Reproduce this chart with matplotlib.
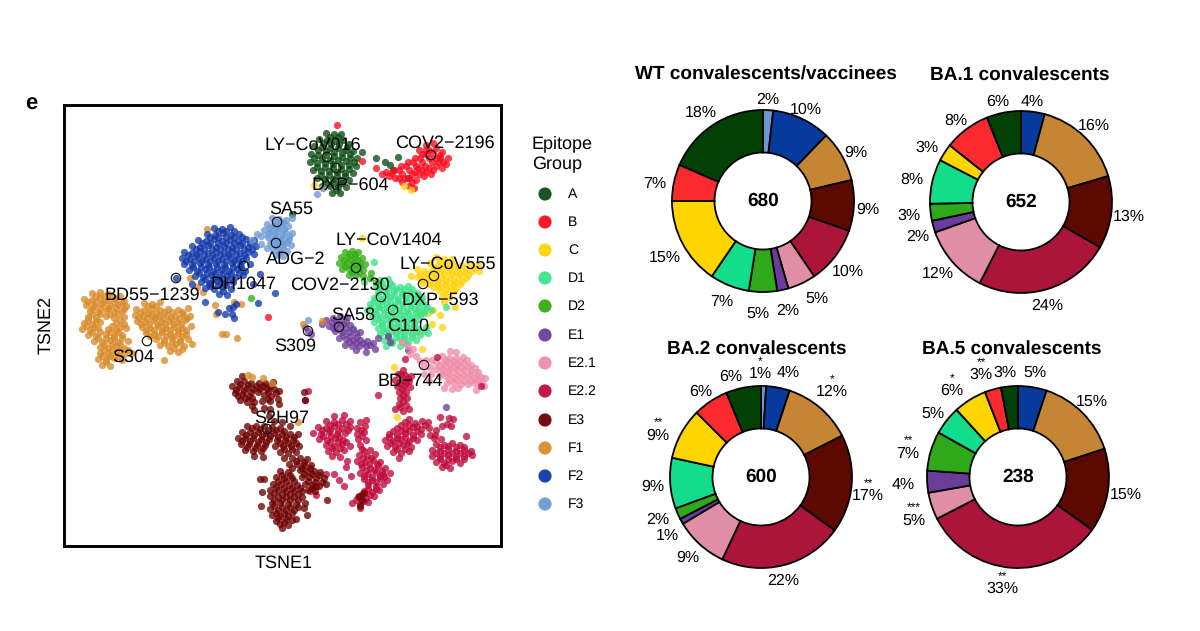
#!/usr/bin/env python
import matplotlib
matplotlib.use('Agg')
import matplotlib.pyplot as plt

plt.rcParams['font.family'] = ['Liberation Sans', 'DejaVu Sans']
plt.rcParams['text.hinting'] = 'none'
plt.rcParams['text.hinting_factor'] = 1

groups = ['A', 'B', 'C', 'D1', 'D2', 'E1', 'E2.1', 'E2.2', 'E3', 'F1', 'F2', 'F3']
dot_colors = ['#0a4d12', '#ff0a1e', '#ffd30a', '#3be38a', '#33ad14', '#6f3d9b',
              '#f08ca6', '#c00a3a', '#6e0000', '#d98a28', '#1238a8', '#6b9ad6']
pie_colors = ['#034003', '#fb2a2f', '#ffd500', '#13dc8a', '#2fa81c', '#6a3d9a',
              '#e08ea6', '#ab1539', '#5c0a00', '#c58535', '#063a9c', '#6d97cf']

# tsne positions, one list per group
pts_f1 = [(28,253),(36,254),(44,252),(56,250),(20,247),(28,246),(36,248),(44,246),(52,247),(60,245),
    (22,241),(30,240),(38,242),(46,240),(54,241),(62,240),(26,235),(34,234),(42,236),(50,234),(58,235),
    (24,229),(32,228),(42,230),(50,228),(60,229),(20,223),(28,222),(36,224),(52,223),(60,222),
    (18,217),(26,216),(34,218),(44,217),(52,216),(62,218),(24,211),(32,210),(42,212),(50,210),(58,211),
    (30,205),(38,204),(46,206),(54,204),(64,205),(36,199),(44,198),(52,200),(60,198),(36,193),(44,192),
    (52,194),(60,192),(68,193),(34,187),(42,186),(50,188),(58,186),(38,181),(46,180),
    (80,243),(88,242),(96,244),(72,237),(80,236),(88,238),(96,236),(104,237),(114,236),(124,238),
    (71,231),(79,230),(87,232),(95,230),(103,231),(111,230),(119,232),(126,230),(73,225),(81,224),
    (89,226),(97,224),(105,225),(113,224),(121,226),(78,219),(86,218),(94,220),(102,218),(110,219),
    (118,218),(127,220),(82,213),(90,212),(98,214),(106,212),(114,213),(122,212),(92,207),(100,206),
    (108,208),(116,206),(124,207),(96,201),(104,200),(112,202),(120,200),(128,202),(106,195),(114,194),
    (118,197),(100,186),(158,212),(162,212),(173,208),(177,242),(151,241),(143,317),(184,171),(188,169),
    (199,168),(208,163),(234,124),(239,222),(258,225),(139,254),(126,268),(133,259),(152,232),(170,244),
    (32,250),(40,250),(48,250),(24,244),(32,244),(40,244),(50,244),(58,243),(28,238),(36,238),(44,238),
    (52,238),(60,237),(28,232),(36,232),(46,232),(54,232),(24,226),(32,225),(56,226),(22,220),(30,219),
    (48,220),(56,219),(28,214),(36,214),(46,214),(54,214),(34,208),(42,208),(50,208),(58,208),(40,202),
    (48,202),(56,202),(40,196),(48,196),(56,196),(64,196),(38,190),(46,190),(54,190),(42,184),
    (84,240),(92,240),(76,234),(84,233),(92,233),(100,234),(108,234),(118,234),(75,228),(83,228),(91,228),
    (99,228),(107,228),(115,228),(123,228),(77,222),(85,222),(93,222),(101,222),(109,222),(117,222),
    (82,216),(90,216),(98,216),(106,216),(114,216),(122,216),(86,210),(94,210),(102,210),(110,210),
    (118,210),(100,204),(108,204),(116,204),(110,198)]
pts_f2 = [(150,318),(158,317),(166,319),(143,312),(151,311),(159,313),(167,311),(175,312),(134,306),
    (142,305),(150,307),(158,305),(166,306),(174,305),(182,307),(190,306),(128,300),(136,299),(144,301),
    (152,299),(160,300),(168,299),(176,301),(184,299),(192,300),(120,294),(128,293),(136,295),(144,293),
    (152,294),(160,293),(168,295),(176,293),(184,294),(190,292),(118,288),(126,287),(134,289),(142,287),
    (150,288),(158,287),(166,289),(174,287),(182,288),(120,282),(128,281),(136,283),(144,281),(152,282),
    (160,281),(168,283),(176,281),(186,282),(125,276),(133,275),(141,277),(149,275),(157,276),(165,275),
    (173,277),(181,275),(131,270),(139,269),(147,271),(155,269),(163,270),(171,269),(179,271),(137,264),
    (145,263),(153,265),(161,263),(169,264),(141,258),(150,257),(158,259),(167,257),(155,252),(163,251),
    (172,242),(165,238),(161,232),(168,232),(170,228),(141,244),(154,234),(169,239),(194,243),(211,253),
    (146,262),(112,268),(128,262),(189,262),(196,272),
    (154,315),(162,315),(170,315),(146,309),(154,309),(162,309),(170,309),(178,309),(138,303),(146,303),
    (154,303),(162,303),(170,303),(178,303),(186,303),(132,297),(140,297),(148,297),(156,297),(164,297),
    (172,297),(180,297),(188,297),(124,291),(132,291),(140,291),(148,291),(156,291),(164,291),(172,291),
    (180,291),(122,285),(130,285),(138,285),(146,285),(154,285),(162,285),(170,285),(178,285),(129,279),
    (137,279),(145,279),(153,279),(161,279),(169,279),(177,279),(135,273),(143,273),(151,273),(159,273),
    (167,273),(175,273),(141,267),(149,267),(157,267),(165,267),(146,260),(154,261),(162,261),(159,255)]
pts_f3 = [(208,328),(215,327),(222,326),(228,328),(203,322),(210,321),(217,321),(224,320),(200,316),
    (207,315),(214,315),(221,314),(228,313),(197,310),(204,309),(211,309),(218,308),(225,307),(206,303),
    (213,303),(220,302),(227,301),(209,297),(216,296),(223,295),(212,291),(219,290),(197,302),(203,298),
    (193,312),(253,352),(259,358),(244,226),(188,306),
    (212,324),(219,324),(206,318),(213,318),(220,317),(204,312),(211,312),(218,311),(225,310),(209,306),
    (216,305),(223,304),(212,300),(219,299),(215,293)]
pts_d2 = [(281,294),(288,295),(294,294),(277,289),(284,289),(291,289),(298,288),(275,283),(282,283),
    (289,283),(296,283),(301,282),(278,277),(285,277),(292,277),(299,276),(285,271),(292,271),(299,270),
    (306,268),(312,264),(307,273),(187,248),
    (285,292),(291,292),(280,286),(287,286),(294,286),(281,280),(288,280),(295,280),(288,274),(295,274)]
pts_c = [(372,289),(380,287),(388,287),(366,283),(374,281),(382,281),(390,281),(398,281),(406,283),
    (414,281),(353,277),(360,275),(368,275),(376,275),(384,275),(392,274),(400,274),(408,275),(415,275),
    (347,270),(354,269),(362,269),(370,268),(378,268),(386,268),(394,268),(402,268),(358,263),(365,262),
    (373,262),(381,262),(389,262),(396,262),(375,256),(383,256),(390,255),(378,250),(385,249),(380,244),
    (354,233),(369,236),(391,239),(378,219),(354,232),(364,233),(376,231),(358,197),(330,179),(333,129),
    (368,222),(355,213),(347,356),(340,360),(298,308),(250,361),(258,358),
    (376,284),(384,284),(370,278),(378,278),(386,278),(394,278),(402,278),(410,278),(356,272),(364,272),
    (372,272),(380,272),(388,272),(396,272),(404,271),(358,266),(366,265),(374,265),(382,265),(390,265),
    (398,265),(369,259),(377,259),(385,259),(392,258),(381,253)]
pts_d1 = [(316,266),(324,267),(312,260),(320,259),(328,261),(336,259),(344,260),(314,254),(322,253),
    (330,255),(338,253),(346,254),(353,253),(310,248),(318,247),(326,249),(334,247),(342,248),(350,247),
    (358,249),(306,242),(314,241),(322,243),(330,241),(338,242),(346,241),(354,243),(361,241),(303,236),
    (311,235),(319,237),(327,235),(335,236),(343,235),(351,237),(359,235),(367,236),(308,230),(316,229),
    (324,231),(332,229),(340,230),(348,229),(356,231),(310,224),(318,223),(326,225),(334,223),(342,224),
    (350,223),(314,218),(322,217),(330,219),(338,217),(346,218),(354,217),(362,219),(316,212),(324,211),
    (332,213),(340,211),(348,212),(356,211),(364,213),(320,206),(328,205),(336,207),(344,205),(352,206),
    (322,200),(336,200),(310,284),(382,239),(289,217),(300,264),
    (318,263),(326,263),(316,257),(324,257),(332,257),(340,257),(348,257),(314,251),(322,251),(330,251),
    (338,251),(346,251),(354,251),(310,245),(318,245),(326,245),(334,245),(342,245),(350,245),(358,245),
    (307,239),(315,239),(323,239),(331,239),(339,239),(347,239),(355,239),(363,239),(312,233),(320,233),
    (328,233),(336,233),(344,233),(352,233),(360,233),(314,227),(322,227),(330,227),(338,227),(346,227),
    (354,227),(318,221),(326,221),(334,221),(342,221),(350,221),(320,215),(328,215),(336,215),(344,215),
    (352,215),(360,215),(324,209),(332,209),(340,209),(348,209),(328,203),(342,202)]
pts_e1 = [(262,226),(269,228),(276,230),(283,229),(265,220),(272,222),(279,222),(286,221),(271,215),
    (278,214),(285,214),(292,213),(275,208),(282,207),(289,206),(296,206),(303,205),(281,201),(288,200),
    (295,200),(302,200),(309,203),(314,208),(311,197),(302,194),(292,196),(258,222),(244,215),(241,219),
    (247,212),(296,214),(324,210),(344,196),(326,204),(382,139),
    (268,224),(275,225),(282,225),(269,218),(275,218),(282,218),(289,217),(279,211),(286,210),(293,209),
    (285,204),(292,203),(299,203),(306,201)]
pts_e21 = [(338,204),(344,200),(349,197),(346,192),(352,190),(356,185),(362,186),(360,180),(366,179),
    (368,186),(386,195),(392,194),(378,190),(385,188),(392,188),(399,189),(372,184),(379,183),(386,182),
    (393,182),(400,183),(407,181),(372,177),(379,176),(386,176),(393,176),(400,176),(407,175),(414,174),
    (375,170),(382,170),(389,169),(396,169),(403,169),(410,168),(417,169),(421,168),(383,163),(390,163),
    (397,162),(404,162),(411,163),(418,163),(380,158),(388,157),(394,158),(412,156),(420,160),(360,172),
    (367,172),(365,165),
    (382,186),(389,185),(396,185),(403,186),(376,180),(383,179),(390,179),(397,179),(404,179),(411,178),
    (378,173),(385,173),(392,172),(399,172),(406,172),(413,171),(386,166),(393,166),(400,165),(407,165),
    (414,166)]
pts_e22 = [(339,176),(334,172),(341,171),(347,170),(331,166),(338,166),(345,165),(333,160),(340,160),
    (346,159),(335,154),(342,154),(336,148),(343,148),(335,142),(342,141),(331,137),(339,135),(345,137),
    (345,127),(314,151),(341,187),(373,189),(417,160),(244,155),(241,146),
    (270,130),(280,131),(262,125),(270,124),(278,126),(286,125),(296,124),(302,126),(254,119),(262,118),
    (270,120),(278,118),(286,119),(293,118),(301,120),(249,113),(257,112),(265,114),(273,112),(281,113),
    (293,112),(300,114),(255,107),(263,106),(271,108),(279,106),(294,107),(302,106),(262,101),(270,100),
    (278,102),(286,100),(296,101),(264,95),(272,94),(280,96),(300,95),(268,90),(276,89),
    (298,97),(306,96),(295,91),(303,90),(311,92),(293,85),(301,84),(309,86),(316,84),(298,79),(306,78),
    (314,80),(321,78),(296,73),(304,72),(312,74),(319,72),(326,73),(300,67),(308,66),(316,68),(323,66),
    (304,61),(312,60),(319,62),(300,55),(308,54),(315,56),(294,49),(302,48),(310,50),(288,43),(296,42),
    (304,44),(296,38),(262,72),(270,72),(275,66),(280,60),(287,70),(283,85),(282,79),(252,60),(252,51),
    (246,55),(341,124),(351,123),(358,125),(333,118),(341,117),(349,119),(357,117),(365,118),(325,112),
    (333,111),(341,113),(349,111),(357,112),(321,106),(329,105),(337,107),(345,105),(353,106),(323,100),
    (331,99),(339,101),(347,99),(329,94),(337,93),(345,95),(335,88),(370,108),(377,107),(402,110),
    (372,102),(380,101),(388,103),(396,101),(368,96),(376,95),(384,97),(392,95),(400,96),(407,95),
    (368,90),(376,89),(384,91),(392,89),(400,90),(408,91),(372,84),(380,83),(388,85),(396,83),(378,79),
    (386,78),(372,116),(378,120),(385,128),(389,127),(376,129),(383,122),(387,120),(366,111),(364,124),
    (371,111),
    (266,121),(274,122),(282,122),(258,116),(266,116),(274,115),(284,116),(297,116),(259,110),(267,110),
    (275,109),(298,110),(266,104),(274,104),(282,104),(268,98),(276,98),(299,88),(307,88),(297,82),(305,82),
    (313,82),(302,76),(310,76),(318,75),(300,70),(308,69),(316,70),(304,64),(312,64),(320,69),(304,57),
    (312,57),(298,52),(306,51),(292,46),(300,45),(337,121),(345,121),(353,120),(361,121),(329,115),(337,115),
    (345,115),(353,115),(325,109),(333,108),(341,109),(349,108),(327,103),(335,103),(343,103),(333,97),
    (341,97),(376,99),(384,100),(392,99),(400,99),(372,93),(380,93),(388,93),(396,93),(404,93),(376,87),
    (384,87),(392,87),(400,87),(382,81),(337,172),(344,168),(335,163),(342,163),(338,157),(339,151),
    (339,145),(336,139)]
pts_e3 = [(178,170),(173,165),(180,165),(187,163),(195,163),(201,163),(209,164),(168,160),(175,159),
    (182,158),(189,157),(196,157),(203,157),(210,157),(171,153),(178,152),(185,150),(200,151),(207,150),
    (176,146),(183,144),(190,144),(198,145),(206,145),(215,155),(214,147),(188,140),(190,136),(206,137),
    (215,142),(241,146),(240,154),(200,138),(205,130),(210,125),(218,124),(183,120),(192,120),(200,120),
    (208,119),(216,118),(226,120),(178,114),(186,114),(194,114),(202,113),(210,113),(218,112),(226,112),
    (234,112),(174,108),(181,108),(189,108),(197,107),(205,107),(213,106),(221,106),(229,106),(177,102),
    (185,102),(193,101),(201,101),(211,100),(219,100),(227,100),(235,100),(181,96),(189,95),(197,95),
    (216,94),(224,93),(232,94),(199,89),(190,90),(220,88),(228,88),(236,88),(243,87),(225,82),(233,82),
    (240,81),(247,81),(236,76),(243,75),(250,75),(256,74),(238,69),(245,69),(252,68),(260,68),(241,62),
    (248,61),(255,60),(262,62),(244,56),(251,55),(216,75),(224,74),(212,69),(220,68),(228,68),(209,62),
    (217,62),(225,61),(233,61),(206,56),(214,56),(222,55),(230,55),(238,55),(206,50),(214,49),(222,49),
    (230,49),(238,49),(208,43),(216,43),(224,42),(232,42),(241,43),(206,37),(214,36),(222,36),(230,36),
    (208,31),(216,30),(224,30),(212,25),(220,24),(228,26),(218,18),(196,67),(200,67),(198,54),(197,40),
    (243,31),(232,27),(263,46),(295,50),(300,53),(298,46),(296,40),(240,38),
    (176,162),(184,161),(192,160),(199,160),(206,160),(172,156),(180,155),(187,154),(194,154),(204,154),
    (212,153),(174,150),(181,148),(188,148),(204,147),(188,118),(196,117),(204,116),(212,116),(220,115),
    (182,111),(190,111),(198,110),(206,110),(214,109),(222,109),(230,109),(178,105),(186,105),(194,104),
    (202,104),(216,103),(224,103),(232,103),(183,99),(191,98),(199,98),(220,97),(228,97),(232,85),(240,84),
    (228,78),(238,78),(246,78),(240,72),(248,72),(255,71),(244,65),(251,64),(258,64),(248,58),(218,71),
    (226,71),(214,65),(222,65),(230,65),(212,59),(220,58),(228,58),(236,58),(210,53),(218,52),(226,52),
    (234,52),(210,46),(218,46),(226,46),(234,46),(210,40),(218,39),(226,39),(234,39),(212,33),(220,33),
    (228,33),(214,28),(222,27),(216,22),(224,21)]
pts_a = [(262,413),(270,412),(277,412),(255,407),(263,406),(271,405),(279,406),(285,402),(250,400),
    (258,399),(266,398),(274,398),(282,396),(289,395),(247,392),(254,391),(262,391),(270,390),(278,389),
    (286,388),(293,388),(246,384),(253,383),(261,383),(269,382),(277,381),(285,381),(292,380),(249,376),
    (257,375),(265,375),(273,374),(281,373),(289,373),(253,368),(261,367),(269,367),(277,366),(285,366),
    (258,360),(266,360),(274,359),(282,359),(268,353),(276,353),(321,384),(326,381),(334,389),(329,376),
    (344,368),(298,394),(228,332),(312,388),
    (266,409),(274,409),(259,403),(267,402),(275,402),(283,399),(254,396),(262,395),(270,394),(278,393),
    (286,392),(250,388),(258,387),(266,386),(274,386),(282,385),(290,384),(253,379),(261,379),(269,378),
    (277,377),(285,377),(257,371),(265,371),(273,370),(281,370),(262,363),(270,363),(278,363),(272,356)]
pts_b = [(273,421),(318,372),(325,370),(330,376),(337,380),(331,368),(338,372),(345,376),(352,380),
    (344,384),(351,388),(358,392),(365,396),(372,398),(378,394),(384,388),(379,384),(372,388),(365,388),
    (358,384),(351,374),(358,376),(365,378),(372,380),(378,378),(345,368),(352,366),(360,370),(367,372),
    (338,364),(345,360),(350,358),(355,396),(362,401),(369,403),(298,385),(312,378),(204,229),
    (328,373),(335,376),(342,380),(349,384),(356,388),(362,392),(369,393),(376,391),(382,382),(375,384),
    (368,384),(361,380),(354,378),(348,372),(355,372),(362,374),(369,376),(341,368),(348,364),(335,368),
    (322,374),(376,388),(362,396)]
scatter_points = [pts_a, pts_b, pts_c, pts_d1, pts_d2, pts_e1, pts_e21, pts_e22, pts_e3, pts_f1, pts_f2, pts_f3]

# representative antibodies
antibody_names = ['LY−CoV016', 'COV2−2196', 'DXP−604', 'SA55', 'LY−CoV1404', 'ADG−2', 'LY−CoV555',
                  'DH1047', 'COV2−2130', 'DXP−593', 'BD55−1239', 'SA58', 'C110', 'S309', 'S304',
                  'BD−744', 'S2H97']
antibody_label_x = [249, 381, 286, 227, 325, 232, 384, 180, 276, 376, 88, 289, 344, 231, 69, 346, 218]
antibody_label_y = [401, 403, 361, 337, 306, 287, 282, 262, 261, 246, 251, 231, 220, 200, 189, 165, 128]
antibody_x = [263, 367, 272, 213, 292, 212, 370, 180, 317, 359, 112, 275, 329, 244, 83, 360, 203]
antibody_y = [389, 391, 378, 324, 278, 303, 270, 280, 249, 262, 268, 219, 236, 215, 205, 181, 117]

# pie shares, clockwise from the top
pie_order = [11, 10, 9, 8, 7, 6, 5, 4, 3, 2, 1, 0]
wt_shares = [1.8, 10.4, 9.1, 9.0, 10.2, 5.0, 2.0, 5.0, 7.0, 15.5, 6.5, 18.5]
ba1_shares = [0, 4.2, 16.2, 12.9, 24.2, 12.1, 2.1, 3.0, 7.9, 3.1, 8.2, 6.1]
ba2_shares = [0.9, 4.2, 12.4, 17.5, 22.0, 9.4, 1.0, 2.0, 9.0, 9.1, 6.3, 6.2]
ba5_shares = [0, 5.1, 14.9, 14.9, 32.6, 4.8, 3.9, 7.0, 5.1, 5.9, 2.9, 3.0]

titles = ['WT convalescents/vaccinees', 'BA.1 convalescents', 'BA.2 convalescents', 'BA.5 convalescents']
totals = ['680', '652', '600', '238']
shares = [wt_shares, ba1_shares, ba2_shares, ba5_shares]
pie_centers = [(763, 201), (1021, 202), (761, 477), (1018, 477)]
title_centers = [(766, 75), (1020, 75), (757, 349), (1012, 349)]

wt_labels = [('18%',701,112),('2%',768,99),('10%',806,109),('9%',856,152),('9%',868,209),('10%',848,271),
             ('5%',817,298),('2%',788,310),('5%',758,313),('7%',722,301),('15%',665,257),('7%',655,183)]
ba1_labels = [('6%',998,101),('4%',1032,101),('16%',1094,125),('13%',1129,216),('24%',1047,305),('12%',938,273),
              ('2%',918,236),('3%',909,215),('8%',912,179),('3%',927,147),('8%',956,120)]
ba2_labels = [('6%',731,376),('1%',760,373),('4%',788,372),('12%',832,391),('17%',868,495),('22%',783,580),
              ('9%',688,557),('1%',667,535),('2%',658,519),('9%',653,486),('9%',658,435),('6%',701,391)]
ba5_labels = [('5%',1035,372),('3%',1005,372),('3%',981,374),('6%',952,390),('5%',933,413),('7%',908,453),
              ('4%',903,484),('5%',914,520),('33%',1002,588),('15%',1126,494),('15%',1092,401)]
pct_labels = [wt_labels, ba1_labels, ba2_labels, ba5_labels]

star_labels = [('*',760,362),('*',832,380),('**',868,484),('**',658,423),
               ('**',981,363),('*',952,379),('**',908,441),('***',914,508),('**',1002,577)]

W, H = 1200, 631


def put(x, y, s, **kw):
    # text placed by picture position
    return fig.text(x / W, 1 - y / H, s, **kw)


fig = plt.figure(figsize=(12, 6.31), dpi=100)

# tsne panel
ax = fig.add_axes([64 / W, 1 - 546 / H, 437 / W, 441 / H])
for pts, c in zip(scatter_points, dot_colors):
    ax.scatter([p[0] for p in pts], [p[1] for p in pts], s=27, color=c, alpha=0.78, linewidths=0)
ax.scatter(antibody_x, antibody_y, s=46, facecolors='none', edgecolors='#111111', linewidths=0.85)
for name, x, y in zip(antibody_names, antibody_label_x, antibody_label_y):
    ax.text(x, y, name, fontsize=13, ha='center', va='center', color='black')
ax.set_xlim(0, 437)
ax.set_ylim(0, 441)
ax.set_xticks([])
ax.set_yticks([])
for sp in ax.spines.values():
    sp.set_linewidth(2.1)
put(284, 563, 'TSNE1', fontsize=12.8, ha='center', va='center')
put(46, 325, 'TSNE2', fontsize=12.8, ha='center', va='center', rotation=90)
put(31, 104, 'e', fontsize=16, fontweight='bold', ha='center', va='center')

# legend
put(532, 154, 'Epitope\nGroup', fontsize=12.8, ha='left', va='center', linespacing=1.3)
legend_ax = fig.add_axes([0, 0, 1, 1])
legend_ax.set_xlim(0, W)
legend_ax.set_ylim(H, 0)
legend_ax.axis('off')
legend_y = [194, 222, 250, 278, 306, 335, 363, 391, 420, 448, 476, 504]
legend_ax.scatter([545] * len(groups), legend_y, s=90, c=dot_colors, alpha=0.95, linewidths=0)
for g, y in zip(groups, legend_y):
    legend_ax.text(568, y, g, fontsize=10.2, ha='left', va='center')

# donuts
R = 91
for i in range(4):
    cx, cy = pie_centers[i]
    pax = fig.add_axes([(cx - R - 2) / W, 1 - (cy + R + 2) / H, (2 * R + 4) / W, (2 * R + 4) / H])
    cols = [pie_colors[k] for k in pie_order]
    pax.pie(shares[i], colors=cols, startangle=90, counterclock=False, radius=1,
            wedgeprops=dict(width=0.467, edgecolor='black', linewidth=1.3))
    pax.set_xlim(-1.022, 1.022)
    pax.set_ylim(-1.022, 1.022)
    pax.text(0, 0, totals[i], fontsize=14, fontweight='bold', ha='center', va='center')
    put(title_centers[i][0], title_centers[i][1], titles[i], fontsize=13.75, fontweight='bold',
        ha='center', va='center')
    for s, x, y in pct_labels[i]:
        put(x, y + 1, s, fontsize=11.8, ha='center', va='center')
for s, x, y in star_labels:
    put(x, y, s, fontsize=8.5, ha='center', va='center')

fig.savefig('out.png', dpi=100)
